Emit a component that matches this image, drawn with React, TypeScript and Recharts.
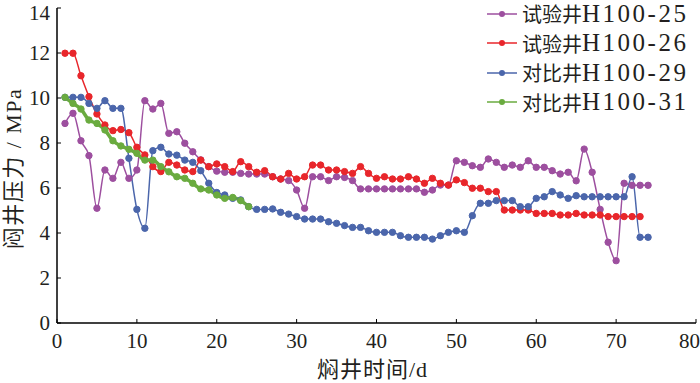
import React from "react";
import { LineChart, Line, XAxis, YAxis, Legend } from "recharts";

// days since the wells were shut in
const days = [
  1, 2, 3, 4, 5, 6, 7, 8, 9, 10, 11, 12, 13, 14, 15, 16, 17, 18, 19, 20,
  21, 22, 23, 24, 25, 26, 27, 28, 29, 30, 31, 32, 33, 34, 35, 36, 37, 38, 39, 40,
  41, 42, 43, 44, 45, 46, 47, 48, 49, 50, 51, 52, 53, 54, 55, 56, 57, 58, 59, 60,
  61, 62, 63, 64, 65, 66, 67, 68, 69, 70, 71, 72, 73, 74,
];

// pressure, MPa
const h25 = [
  8.87, 9.32, 8.1, 7.44, 5.1, 6.8, 6.43, 7.14, 6.43, 6.8,
  9.88, 9.51, 9.76, 8.43, 8.5, 7.99, 7.61, 7.25, 6.95, 6.75,
  6.7, 6.7, 6.65, 6.62, 6.62, 6.62, 6.5, 6.4, 6.33, 5.91,
  5.1, 6.5, 6.5, 6.33, 6.5, 6.47, 6.33, 5.96, 5.96, 5.96,
  5.96, 5.96, 5.96, 5.96, 5.96, 5.81, 5.91, 6.13, 6.13, 7.21,
  7.14, 6.99, 6.92, 7.29, 7.14, 6.92, 7.02, 6.92, 7.21, 6.92,
  6.92, 6.77, 6.62, 6.7, 6.32, 7.73, 6.7, 5.05, 3.59, 2.77,
  6.21, 6.12, 6.12, 6.12,
];
const h26 = [
  11.99, 11.99, 10.99, 10.06, 9.29, 8.8, 8.55, 8.6, 8.46, 7.81,
  7.47, 6.95, 6.73, 7.14, 7.02, 6.8, 6.73, 7.24, 6.95, 7.07,
  6.95, 6.73, 7.17, 6.95, 6.7, 6.77, 6.5, 6.4, 6.65, 6.4,
  6.5, 7.02, 7.02, 6.8, 6.8, 6.73, 6.65, 6.95, 6.65, 6.43,
  6.5, 6.4, 6.4, 6.5, 6.4, 6.21, 6.43, 6.21, 6.13, 6.36,
  6.24, 5.99, 5.99, 5.84, 5.84, 5.02, 5.02, 5.02, 5.02, 4.87,
  4.87, 4.87, 4.8, 4.8, 4.87, 4.8, 4.8, 4.8, 4.73, 4.73,
  4.73, 4.73, 4.73,
];
const h29 = [
  10.03, 10.03, 10.03, 9.76, 9.54, 9.88, 9.54, 9.54, 7.32, 5.05,
  4.21, 7.66, 7.81, 7.51, 7.46, 7.24, 7.14, 6.77, 6.21, 5.8,
  5.69, 5.54, 5.47, 5.17, 5.05, 5.05, 5.07, 4.92, 4.84, 4.73,
  4.62, 4.62, 4.62, 4.5, 4.43, 4.33, 4.25, 4.25, 4.1, 4.03,
  4.03, 4.03, 3.88, 3.81, 3.81, 3.81, 3.73, 3.88, 4.03, 4.1,
  4.03, 4.77, 5.32, 5.32, 5.44, 5.44, 5.44, 5.17, 5.17, 5.54,
  5.61, 5.84, 5.69, 5.54, 5.66, 5.61, 5.61, 5.61, 5.61, 5.61,
  5.61, 6.5, 3.81, 3.81,
];
const h31 = [
  10.03, 9.76, 9.51, 9.02, 8.87, 8.58, 8.1, 7.87, 7.72, 7.54,
  7.24, 7.24, 6.95, 6.72, 6.5, 6.43, 6.21, 5.96, 5.91, 5.69,
  5.54, 5.58, 5.44, 5.17,
];

const xTicks = [0, 10, 20, 30, 40, 50, 60, 70, 80];
const yTicks = [0, 2, 4, 6, 8, 10, 12, 14];

const seriesKeys = ["h25", "h26", "h29", "h31"];
const seriesNames = ["试验井H100-25", "试验井H100-26", "对比井H100-29", "对比井H100-31"];
const colors = ["#9d4f9f", "#e8262b", "#4b66ab", "#6aab3f"];

const data = days.map((day, i) => ({
  day,
  h25: h25[i],
  h26: h26[i],
  h29: h29[i],
  h31: h31[i],
}));

const font = "'Liberation Serif', 'Noto Sans CJK SC', serif";
const cjkFont = "'Noto Sans CJK SC', serif";
const ink = "#231f20";

function renderLegend() {
  return (
    <div style={{ fontFamily: font, color: ink }}>
      {seriesNames.map((name, i) => (
        <div
          key={name}
          style={{ display: "flex", alignItems: "center", height: 29.5, whiteSpace: "nowrap" }}
        >
          <svg width={30} height={10}>
            <line x1={0} y1={5} x2={30} y2={5} stroke={colors[i]} strokeWidth={1.5} />
            <circle cx={15} cy={5} r={3} fill={colors[i]} />
          </svg>
          <span style={{ marginLeft: 5, fontSize: 20, fontFamily: cjkFont }}>
            {name.slice(0, 3)}
          </span>
          <span style={{ fontSize: 25, letterSpacing: 2.5 }}>{name.slice(3)}</span>
        </div>
      ))}
    </div>
  );
}

export default function App() {
  return (
    <div style={{ position: "absolute", left: 0, top: 0, fontFamily: font }}>
      <LineChart
        width={700}
        height={383}
        data={data}
        margin={{ top: 8, right: 4, bottom: 0, left: 0 }}
      >
        <XAxis
          dataKey="day"
          type="number"
          domain={[0, 80]}
          ticks={xTicks}
          height={60}
          tickSize={-4}
          tickMargin={14}
          axisLine={{ stroke: "#000", strokeWidth: 1.5 }}
          tickLine={{ stroke: "#000" }}
          tick={{ fontSize: 21, fontFamily: font, fill: ink }}
          label={{
            value: "焖井时间/d",
            position: "insideBottom",
            offset: 6,
            dx: -4,
            fontSize: 22,
            letterSpacing: 1,
            fontFamily: font,
            fill: ink,
          }}
        />
        <YAxis
          type="number"
          domain={[0, 14]}
          ticks={yTicks}
          width={57}
          tickSize={-4}
          tickMargin={11}
          axisLine={{ stroke: "#000", strokeWidth: 1.5 }}
          tickLine={{ stroke: "#000" }}
          tick={{ fontSize: 21, fontFamily: font, fill: ink }}
          label={{
            value: "闷井压力 / MPa",
            angle: -90,
            position: "center",
            dx: -15,
            dy: 3,
            fontSize: 22,
            letterSpacing: 1.5,
            fontFamily: font,
            fill: ink,
          }}
        />
        <Legend
          layout="vertical"
          align="center"
          verticalAlign="middle"
          content={renderLegend}
          wrapperStyle={{ left: 487, top: -1, width: 220 }}
        />
        {seriesKeys.map((key, i) => (
          <Line
            key={key}
            type="monotone"
            dataKey={key}
            name={seriesNames[i]}
            stroke={colors[i]}
            strokeWidth={i === 3 ? 3.5 : 1.5}
            dot={{ r: 3.2, fill: colors[i], stroke: colors[i], strokeWidth: 1 }}
            activeDot={false}
            connectNulls={false}
            isAnimationActive={false}
          />
        ))}
      </LineChart>
    </div>
  );
}
